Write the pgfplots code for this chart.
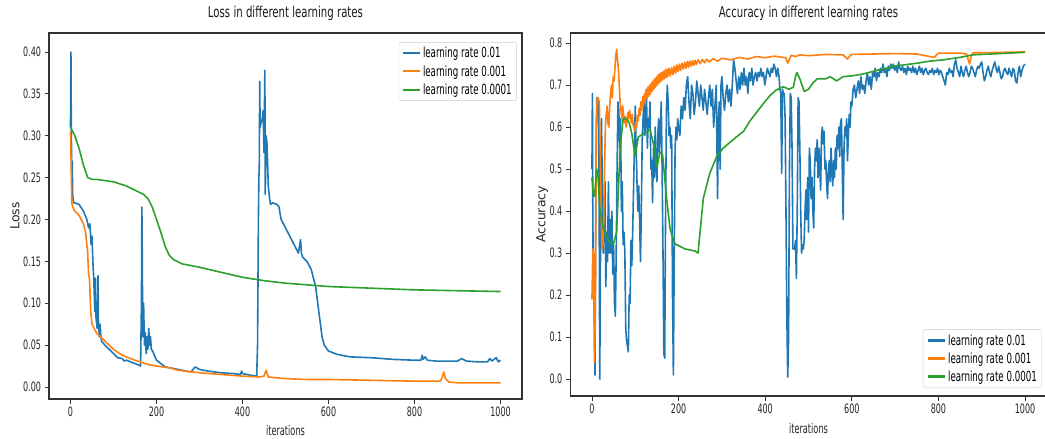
\documentclass[border=0pt]{standalone}
\usepackage{fontspec}
\setmainfont{DejaVu Sans}[FakeStretch=0.62]
\newfontfamily\titlefont{DejaVu Sans}[FakeStretch=0.68]
\newfontfamily\ylabfont{DejaVu Sans}
\usepackage{pgfplots}
\pgfplotsset{compat=1.18}
\definecolor{tabblue}{HTML}{1F77B4}
\definecolor{taborange}{HTML}{FF7F0E}
\definecolor{tabgreen}{HTML}{2CA02C}
\pgfplotsset{
 mystyle/.style={
  scale only axis,
  axis line style={black!80, line width=1.1bp},
  tick style={black!80, line width=0.9bp},
  major tick length=4.5bp,
  tick align=outside,
  tick pos=left,
  xmin=-50, xmax=1050,
  xtick={0,200,...,1000},
  /pgf/number format/assume math mode=true,
  /pgf/number format/1000 sep={},
  ticklabel style={font=\fontsize{13}{15}\selectfont, text=black!85},
  xlabel style={font=\fontsize{13.3}{15}\selectfont, text=black!85},
  ylabel style={font=\ylabfont\fontsize{12.5}{15}\selectfont, text=black!85},
  title style={font=\titlefont\fontsize{15}{17}\selectfont, text=black!90},
  xlabel={iterations},
  every axis plot/.append style={line width=1.6bp, line join=round},
  legend cell align=left,
  legend style={font=\fontsize{14}{16}\selectfont, draw=black!20, rounded corners=2bp, fill=white, row sep=2bp, inner sep=3bp},
 }
}
\begin{document}
\begin{tikzpicture}
\path[use as bounding box] (0,0) rectangle (1045bp,439bp);
\begin{axis}[mystyle, at={(49bp,40bp)}, anchor=south west, width=473bp, height=366bp,
  ymin=-0.0143, ymax=0.4227, ytick={0,0.05,...,0.41},
  yticklabel style={/pgf/number format/fixed, /pgf/number format/precision=2, /pgf/number format/fixed zerofill},
  ylabel={Loss}, title={Loss in different learning rates},
  ylabel style={at={(axis description cs:-0.072,0.5)}, anchor=center},
  xlabel style={at={(axis description cs:0.5,-0.086)}, anchor=center},
  title style={at={(axis description cs:0.5,1.038)}, anchor=center},
  legend image code/.code={\draw[#1, line width=2bp] (0bp,0bp) -- (17bp,0bp);},
  legend style={at={(0.989,0.975)}, anchor=north east}]
\addplot[tabblue] coordinates {
(0,0.31)(1,0.40)(2,0.30)(3,0.26)(4,0.27)(5,0.23)(7,0.22)(10,0.22)(20,0.218)(30,0.21)(38,0.20)(42,0.19)(45,0.195)(48,0.17)(50,0.18)(52,0.15)(54,0.13)(56,0.10)(57,0.09)(58,0.13)(59,0.085)(60,0.08)(62,0.07)(63,0.09)(64,0.133)(65,0.08)(67,0.06)(69,0.075)(70,0.065)(72,0.055)(80,0.05)(90,0.045)(100,0.04)(110,0.035)(120,0.034)(125,0.031)(130,0.032)(140,0.03)(150,0.028)(160,0.026)(163,0.025)(165,0.10)(166,0.215)(167,0.15)(168,0.06)(170,0.10)(172,0.05)(174,0.065)(176,0.04)(178,0.06)(180,0.045)(182,0.07)(184,0.05)(186,0.06)(188,0.045)(192,0.042)(195,0.038)(200,0.032)(210,0.028)(220,0.024)(240,0.022)(260,0.02)(280,0.018)(290,0.024)(300,0.021)(320,0.019)(350,0.017)(380,0.016)(395,0.015)(398,0.019)(400,0.016)(420,0.014)(433,0.013)(435,0.05)(437,0.20)(438,0.25)(439,0.26)(440,0.365)(441,0.31)(443,0.315)(446,0.32)(448,0.33)(450,0.28)(451,0.33)(452,0.378)(453,0.23)(455,0.30)(457,0.29)(460,0.24)(463,0.225)(465,0.218)(470,0.22)(480,0.218)(485,0.215)(488,0.205)(490,0.20)(495,0.195)(500,0.19)(510,0.18)(520,0.17)(530,0.16)(535,0.176)(537,0.16)(540,0.155)(550,0.15)(560,0.14)(565,0.13)(570,0.12)(575,0.10)(580,0.08)(585,0.06)(590,0.05)(600,0.043)(620,0.039)(650,0.036)(700,0.035)(750,0.033)(800,0.032)(815,0.032)(818,0.038)(820,0.033)(825,0.036)(830,0.032)(850,0.031)(880,0.031)(900,0.031)(910,0.034)(920,0.031)(950,0.03)(970,0.03)(975,0.034)(980,0.031)(990,0.035)(995,0.03)(1000,0.032)};
\addlegendentry{learning rate 0.01}
\addplot[taborange] coordinates {
(0,0.305)(2,0.25)(3,0.22)(5,0.215)(10,0.21)(20,0.205)(30,0.195)(35,0.185)(40,0.16)(42,0.135)(44,0.13)(45,0.12)(47,0.09)(50,0.075)(55,0.07)(60,0.065)(70,0.06)(80,0.055)(100,0.045)(120,0.038)(150,0.032)(180,0.027)(200,0.025)(230,0.023)(250,0.02)(300,0.017)(350,0.015)(400,0.013)(440,0.012)(450,0.013)(455,0.02)(460,0.012)(500,0.01)(550,0.009)(600,0.009)(700,0.008)(800,0.007)(860,0.007)(865,0.012)(868,0.018)(872,0.01)(880,0.006)(900,0.005)(1000,0.005)};
\addlegendentry{learning rate 0.001}
\addplot[tabgreen] coordinates {
(0,0.31)(10,0.30)(20,0.285)(30,0.265)(40,0.25)(50,0.248)(60,0.248)(100,0.245)(130,0.24)(150,0.235)(170,0.23)(180,0.225)(190,0.215)(200,0.2)(210,0.185)(220,0.168)(230,0.157)(240,0.152)(260,0.147)(300,0.143)(350,0.137)(400,0.131)(450,0.127)(500,0.124)(550,0.122)(600,0.12)(700,0.118)(800,0.116)(900,0.115)(1000,0.114)};
\addlegendentry{learning rate 0.0001}
\end{axis}
\begin{axis}[mystyle, at={(570.3bp,43bp)}, anchor=south west, width=476.4bp, height=363bp,
  ymin=-0.04, ymax=0.824, ytick={0,0.1,...,0.81},
  yticklabel style={/pgf/number format/fixed, /pgf/number format/precision=1, /pgf/number format/fixed zerofill},
  ylabel={Accuracy}, title={Accuracy in different learning rates},
  ylabel style={at={(axis description cs:-0.059,0.5)}, anchor=center},
  xlabel style={at={(axis description cs:0.5,-0.09)}, anchor=center},
  title style={at={(axis description cs:0.5,1.0386)}, anchor=center},
  legend image code/.code={\draw[#1, line width=3bp] (0bp,0bp) -- (17bp,0bp);},
  legend style={at={(0.99,0.022)}, anchor=south east}]
\addplot[tabblue] coordinates {
(0,0.50)(1,0.68)(2,0.40)(3,0.22)(5,0.25)(7,0.01)(9,0.45)(11,0.67)(14,0.67)(16,0.60)(18,0.00)(20,0.35)(22,0.62)(24,0.45)(26,0.30)(28,0.40)(30,0.47)(32,0.22)(34,0.35)(36,0.28)(38,0.47)(40,0.30)(42,0.38)(44,0.30)(46,0.40)(48,0.25)(50,0.32)(52,0.18)(54,0.15)(56,0.30)(58,0.50)(60,0.66)(62,0.64)(64,0.55)(66,0.62)(68,0.40)(70,0.47)(72,0.32)(74,0.35)(76,0.30)(78,0.12)(80,0.09)(82,0.08)(84,0.065)(86,0.20)(88,0.18)(90,0.33)(92,0.27)(94,0.35)(96,0.45)(98,0.55)(100,0.65)(102,0.55)(104,0.47)(106,0.40)(108,0.46)(110,0.38)(112,0.28)(114,0.40)(116,0.57)(118,0.62)(120,0.66)(122,0.58)(124,0.64)(126,0.67)(128,0.55)(130,0.62)(132,0.60)(134,0.66)(136,0.50)(138,0.52)(140,0.42)(142,0.55)(144,0.48)(146,0.60)(148,0.50)(150,0.47)(152,0.58)(154,0.62)(156,0.54)(158,0.60)(160,0.66)(162,0.50)(164,0.30)(166,0.06)(168,0.05)(170,0.40)(172,0.64)(174,0.70)(176,0.66)(178,0.58)(180,0.60)(182,0.55)(184,0.58)(186,0.20)(188,0.01)(190,0.30)(192,0.55)(194,0.60)(196,0.57)(198,0.62)(200,0.60)(203,0.58)(206,0.65)(209,0.62)(212,0.67)(215,0.64)(218,0.70)(221,0.72)(224,0.66)(227,0.62)(230,0.70)(233,0.68)(236,0.63)(239,0.66)(242,0.71)(245,0.68)(248,0.65)(251,0.70)(254,0.67)(257,0.64)(260,0.69)(263,0.66)(266,0.63)(269,0.67)(272,0.70)(275,0.65)(278,0.69)(281,0.60)(284,0.65)(287,0.70)(290,0.43)(292,0.62)(294,0.66)(296,0.50)(298,0.70)(300,0.72)(303,0.67)(306,0.64)(309,0.68)(312,0.70)(315,0.66)(318,0.69)(321,0.65)(324,0.70)(327,0.76)(330,0.74)(333,0.71)(336,0.68)(339,0.72)(342,0.69)(345,0.73)(348,0.70)(351,0.74)(354,0.70)(357,0.72)(360,0.68)(363,0.73)(366,0.71)(369,0.74)(372,0.70)(375,0.72)(378,0.73)(381,0.71)(384,0.73)(387,0.72)(390,0.74)(393,0.72)(396,0.73)(399,0.70)(402,0.72)(405,0.74)(408,0.73)(411,0.72)(414,0.74)(417,0.73)(420,0.75)(423,0.74)(426,0.72)(429,0.74)(432,0.72)(434,0.69)(436,0.68)(438,0.49)(440,0.69)(442,0.68)(444,0.68)(446,0.62)(448,0.40)(450,0.15)(452,0.005)(454,0.10)(456,0.50)(458,0.68)(460,0.67)(462,0.55)(464,0.31)(466,0.31)(468,0.31)(470,0.33)(472,0.24)(474,0.40)(476,0.67)(478,0.66)(480,0.55)(482,0.40)(484,0.30)(486,0.32)(488,0.31)(490,0.33)(492,0.40)(494,0.45)(496,0.38)(498,0.48)(500,0.35)(502,0.55)(504,0.52)(506,0.43)(508,0.48)(510,0.40)(512,0.36)(514,0.50)(516,0.55)(518,0.52)(520,0.57)(522,0.48)(524,0.55)(526,0.50)(528,0.45)(530,0.58)(532,0.60)(534,0.56)(536,0.59)(538,0.50)(540,0.52)(542,0.46)(544,0.43)(546,0.50)(548,0.52)(550,0.47)(552,0.55)(554,0.50)(556,0.46)(558,0.52)(560,0.48)(562,0.55)(564,0.50)(566,0.58)(568,0.55)(570,0.60)(572,0.53)(574,0.61)(576,0.62)(578,0.50)(580,0.38)(582,0.55)(584,0.60)(586,0.58)(588,0.62)(590,0.52)(592,0.58)(594,0.63)(596,0.60)(598,0.66)(600,0.65)(603,0.69)(606,0.70)(609,0.67)(612,0.69)(615,0.71)(618,0.68)(621,0.72)(624,0.69)(627,0.70)(630,0.68)(633,0.71)(636,0.73)(639,0.70)(642,0.72)(645,0.69)(648,0.73)(651,0.72)(654,0.74)(657,0.71)(660,0.73)(663,0.72)(666,0.74)(669,0.73)(672,0.75)(675,0.73)(678,0.74)(681,0.72)(684,0.745)(687,0.735)(690,0.75)(693,0.74)(696,0.75)(699,0.735)(702,0.745)(705,0.73)(708,0.755)(711,0.74)(714,0.735)(717,0.745)(720,0.73)(723,0.74)(726,0.725)(729,0.745)(732,0.735)(735,0.74)(738,0.73)(741,0.745)(744,0.73)(747,0.74)(750,0.725)(753,0.735)(756,0.745)(759,0.73)(762,0.74)(765,0.725)(768,0.735)(771,0.74)(774,0.73)(777,0.725)(780,0.735)(783,0.73)(786,0.74)(789,0.725)(792,0.735)(795,0.73)(798,0.74)(801,0.725)(804,0.735)(807,0.73)(810,0.72)(813,0.71)(816,0.70)(819,0.73)(822,0.725)(825,0.74)(828,0.73)(831,0.735)(834,0.72)(837,0.75)(840,0.76)(843,0.74)(846,0.73)(849,0.72)(852,0.745)(855,0.73)(858,0.72)(861,0.735)(864,0.745)(867,0.73)(870,0.72)(873,0.73)(876,0.745)(879,0.74)(882,0.73)(885,0.72)(888,0.735)(891,0.745)(894,0.74)(897,0.75)(900,0.755)(903,0.73)(906,0.71)(909,0.72)(912,0.735)(915,0.745)(918,0.73)(921,0.72)(924,0.735)(927,0.745)(930,0.755)(933,0.74)(936,0.73)(939,0.745)(942,0.73)(945,0.715)(948,0.72)(951,0.735)(954,0.74)(957,0.73)(960,0.725)(963,0.74)(966,0.73)(969,0.72)(972,0.74)(975,0.735)(978,0.71)(981,0.705)(984,0.73)(987,0.745)(990,0.72)(993,0.735)(996,0.745)(1000,0.75)};
\addlegendentry{learning rate 0.01}
\addplot[taborange] coordinates {
(0,0.19)(2,0.31)(4,0.30)(5,0.10)(6,0.04)(8,0.20)(10,0.60)(12,0.67)(14,0.67)(17,0.66)(19,0.55)(21,0.40)(23,0.31)(25,0.32)(27,0.36)(29,0.50)(31,0.60)(33,0.63)(35,0.65)(37,0.61)(39,0.60)(41,0.65)(43,0.68)(45,0.70)(47,0.67)(49,0.72)(51,0.71)(53,0.74)(55,0.77)(57,0.785)(59,0.76)(61,0.74)(63,0.70)(65,0.66)(67,0.64)(69,0.62)(71,0.65)(73,0.63)(75,0.61)(77,0.625)(79,0.60)(81,0.615)(83,0.635)(85,0.62)(87,0.64)(89,0.625)(91,0.61)(93,0.63)(95,0.605)(97,0.60)(99,0.59)(101,0.612)(103,0.60)(105,0.628)(107,0.615)(109,0.645)(111,0.628)(113,0.66)(115,0.64)(117,0.672)(119,0.65)(121,0.68)(123,0.66)(125,0.69)(127,0.668)(129,0.695)(131,0.673)(133,0.70)(135,0.678)(137,0.705)(139,0.685)(141,0.71)(143,0.69)(145,0.715)(147,0.695)(149,0.72)(151,0.70)(153,0.725)(155,0.705)(157,0.728)(159,0.708)(161,0.73)(163,0.712)(165,0.733)(167,0.715)(169,0.736)(171,0.718)(173,0.738)(175,0.72)(178,0.74)(181,0.722)(184,0.742)(187,0.725)(190,0.745)(193,0.728)(196,0.748)(199,0.732)(202,0.75)(205,0.735)(208,0.752)(211,0.738)(214,0.754)(217,0.74)(220,0.756)(223,0.742)(226,0.757)(229,0.745)(232,0.758)(235,0.747)(238,0.759)(241,0.749)(245,0.76)(250,0.751)(255,0.761)(260,0.753)(265,0.762)(270,0.755)(280,0.763)(290,0.757)(300,0.764)(320,0.76)(340,0.766)(360,0.762)(380,0.768)(400,0.765)(420,0.769)(440,0.766)(448,0.765)(452,0.752)(456,0.762)(460,0.771)(470,0.768)(480,0.772)(500,0.77)(540,0.773)(580,0.772)(585,0.767)(590,0.762)(595,0.769)(600,0.773)(650,0.774)(700,0.775)(750,0.774)(790,0.766)(800,0.776)(850,0.776)(865,0.774)(868,0.763)(872,0.75)(876,0.77)(880,0.777)(900,0.777)(950,0.778)(1000,0.779)};
\addlegendentry{learning rate 0.001}
\addplot[tabgreen] coordinates {
(0,0.48)(3,0.44)(6,0.435)(11,0.50)(14,0.48)(18,0.41)(26,0.36)(38,0.33)(49,0.32)(57,0.35)(61,0.45)(65,0.55)(72,0.62)(80,0.62)(86,0.61)(92,0.585)(99,0.533)(103,0.55)(107,0.577)(122,0.585)(134,0.595)(142,0.56)(150,0.505)(157,0.54)(163,0.535)(172,0.434)(180,0.36)(184,0.345)(192,0.322)(215,0.31)(238,0.305)(245,0.30)(257,0.43)(272,0.49)(288,0.53)(303,0.55)(326,0.57)(334,0.577)(350,0.59)(365,0.615)(380,0.635)(395,0.655)(411,0.675)(425,0.688)(442,0.696)(455,0.69)(465,0.695)(470,0.72)(473,0.73)(480,0.715)(490,0.685)(500,0.69)(510,0.705)(520,0.715)(540,0.715)(550,0.72)(565,0.71)(580,0.72)(600,0.722)(619,0.725)(640,0.73)(657,0.735)(680,0.74)(696,0.745)(720,0.748)(750,0.752)(780,0.757)(811,0.76)(850,0.766)(880,0.772)(920,0.774)(960,0.776)(1000,0.778)};
\addlegendentry{learning rate 0.0001}
\end{axis}
\end{tikzpicture}
\end{document}
